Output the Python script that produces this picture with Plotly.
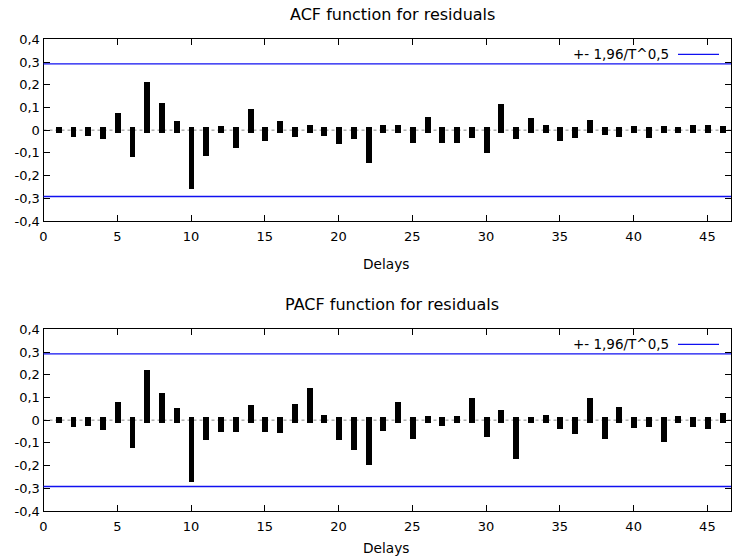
import plotly.graph_objects as go

W, H = 736, 557

lags = list(range(1, 47))
acf = [0.000, -0.019, -0.014, -0.028, 0.063, -0.104, 0.198, 0.106, 0.025, -0.246,
       -0.100, 0.004, -0.067, 0.079, -0.034, 0.025, -0.018, 0.009, -0.013, -0.051,
       -0.028, -0.132, 0.007, 0.007, -0.046, 0.042, -0.046, -0.046, -0.024, -0.089,
       0.101, -0.028, 0.040, 0.009, -0.034, -0.024, 0.031, -0.008, -0.019, 0.003,
       -0.024, 0.003, 0.000, 0.009, 0.009, 0.002]
pacf = [0.000, -0.018, -0.013, -0.030, 0.064, -0.110, 0.204, 0.107, 0.037, -0.262,
        -0.077, -0.040, -0.040, 0.052, -0.040, -0.045, 0.058, 0.128, 0.010, -0.077,
        -0.119, -0.185, -0.034, 0.064, -0.070, 0.004, -0.013, 0.004, 0.085, -0.061,
        0.031, -0.159, -0.002, 0.009, -0.028, -0.051, 0.085, -0.070, 0.042, -0.024,
        -0.018, -0.083, 0.004, -0.018, -0.028, 0.015]
band = 0.2922  # 1.96 / sqrt(T)

ytick_vals = [-0.4, -0.3, -0.2, -0.1, 0, 0.1, 0.2, 0.3, 0.4]
ytick_text = ["-0,4", "-0,3", "-0,2", "-0,1", "0", "0,1", "0,2", "0,3", "0,4"]
xtick_vals = [0, 5, 10, 15, 20, 25, 30, 35, 40, 45]
xtick_text = ["0", "5", "10", "15", "20", "25", "30", "35", "40", "45"]

titles = ["ACF function for residuals", "PACF function for residuals"]
legend_label = "+- 1,96/T^0,5"
xlabel = "Delays"

FONT = "DejaVu Sans"
cap = 0.0134   # visual line-cap overshoot of the thick impulses
bar_w = 0.40

x_dom = [43.5 / W, 731 / W]
y_doms = [[(H - 221) / H, (H - 39.3) / H], [(H - 511) / H, (H - 329.3) / H]]
title_y = [(H - 14) / H, (H - 305) / H]
label_y = [(H - 264) / H, (H - 548) / H]

fig = go.Figure()
for i, vals in enumerate([acf, pacf]):
    xa = "x" if i == 0 else "x2"
    ya = "y" if i == 0 else "y2"
    base = [min(v, 0) - cap for v in vals]
    height = [abs(v) + 2 * cap for v in vals]
    fig.add_trace(go.Bar(x=lags, y=height, base=base, width=bar_w,
                         marker=dict(color="black", line=dict(width=0)),
                         xaxis=xa, yaxis=ya, showlegend=False, hoverinfo="skip"))
    xref = "x domain" if i == 0 else "x2 domain"
    for b in (band, -band):
        fig.add_shape(type="line", xref=xref, yref=ya, x0=0, x1=1, y0=b, y1=b,
                      line=dict(color="#1010f0", width=1.3), layer="above")
    fig.add_shape(type="line", xref=xref, yref=ya, x0=0, x1=1, y0=0, y1=0,
                  line=dict(color="#888888", width=1, dash="dot"), layer="below")
    # legend
    ytop = y_doms[i][1]
    fig.add_annotation(x=671 / W, y=ytop - 15 / H, xref="paper", yref="paper",
                       text=legend_label, showarrow=False, xanchor="right", yanchor="middle",
                       font=dict(family=FONT, size=13.5, color="black"))
    fig.add_shape(type="line", xref="paper", yref="paper", x0=678 / W, x1=719 / W,
                  y0=ytop - 15 / H, y1=ytop - 15 / H,
                  line=dict(color="#1010f0", width=1.3))
    fig.add_annotation(x=392 / W, y=title_y[i], xref="paper", yref="paper",
                       text=titles[i], showarrow=False, xanchor="center", yanchor="middle",
                       font=dict(family=FONT, size=16, color="black"))
    fig.add_annotation(x=386 / W, y=label_y[i], xref="paper", yref="paper",
                       text=xlabel, showarrow=False, xanchor="center", yanchor="middle",
                       font=dict(family=FONT, size=13.7, color="black"))

axis_common = dict(showline=True, linecolor="black", linewidth=1, mirror="ticks",
                   ticks="inside", ticklen=6, tickwidth=1, tickcolor="black",
                   showgrid=False, zeroline=False, automargin=False,
                   tickfont=dict(family=FONT, size=13, color="black"))

fig.update_layout(
    template="none",
    width=W, height=H,
    margin=dict(l=0, r=0, t=0, b=0, pad=0),
    paper_bgcolor="white", plot_bgcolor="white",
    showlegend=False, bargap=0,
    xaxis=dict(domain=x_dom, range=[0, 46.6], anchor="y", tickvals=xtick_vals,
               ticktext=xtick_text, ticklabelstandoff=3, **axis_common),
    yaxis=dict(domain=y_doms[0], range=[-0.4, 0.4], anchor="x", tickvals=ytick_vals,
               ticktext=ytick_text, **axis_common),
    xaxis2=dict(domain=x_dom, range=[0, 46.6], anchor="y2", tickvals=xtick_vals,
                ticktext=xtick_text, ticklabelstandoff=3, **axis_common),
    yaxis2=dict(domain=y_doms[1], range=[-0.4, 0.4], anchor="x2", tickvals=ytick_vals,
                ticktext=ytick_text, **axis_common),
)

fig.write_html("out.html", config={"displayModeBar": False},
               post_script="document.body.style.margin='0';document.body.style.overflow='hidden';")
